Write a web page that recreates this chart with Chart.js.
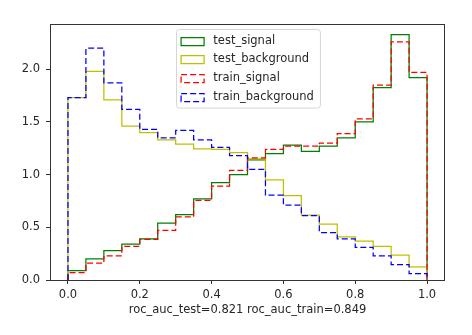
<!DOCTYPE html>
<html>
<head>
<meta charset="utf-8">
<script src="https://cdn.jsdelivr.net/npm/chart.js@4.4.0/dist/chart.umd.min.js"></script>
<style>
  html, body { margin: 0; padding: 0; background: #fff; }
  #wrap { width: 472px; height: 335px; }
</style>
</head>
<body>
<div id="wrap"><canvas id="histChart" width="472" height="335"></canvas></div>
<script>
// histogram bin edges (20 bins)
const binEdges = [0.00, 0.05, 0.10, 0.15, 0.20, 0.25, 0.30, 0.35, 0.40, 0.45, 0.50,
                  0.55, 0.60, 0.65, 0.70, 0.75, 0.80, 0.85, 0.90, 0.95, 1.00];

// density per bin
const testSignal = [0.09, 0.20, 0.28, 0.34, 0.39, 0.54, 0.62, 0.77, 0.925, 1.00,
                    1.14, 1.20, 1.28, 1.22, 1.27, 1.35, 1.50, 1.825, 2.33, 1.92];
const testBackground = [1.73, 1.98, 1.71, 1.46, 1.40, 1.33, 1.29, 1.245, 1.24, 1.21,
                        1.15, 0.95, 0.80, 0.615, 0.53, 0.41, 0.37, 0.32, 0.235, 0.124];
const trainSignal = [0.07, 0.16, 0.23, 0.32, 0.385, 0.47, 0.60, 0.755, 0.89, 1.04,
                     1.16, 1.24, 1.27, 1.27, 1.30, 1.39, 1.53, 1.85, 2.26, 1.97];
const trainBackground = [1.73, 2.20, 1.87, 1.62, 1.43, 1.35, 1.42, 1.33, 1.26, 1.18,
                         1.05, 0.805, 0.71, 0.61, 0.45, 0.39, 0.31, 0.23, 0.146, 0.06];

const xTicks = [0.0, 0.2, 0.4, 0.6, 0.8, 1.0];
const yTicks = [0.0, 0.5, 1.0, 1.5, 2.0];
const xLabel = 'roc_auc_test=0.821 roc_auc_train=0.849';

const FONT = 'DejaVu Sans';
const FONT_SIZE = 11.5;
const TEXT_COLOR = '#262626';
const AXIS_COLOR = '#333333';
const LINE_W = 1.25;

Chart.defaults.font.family = FONT;
Chart.defaults.font.size = FONT_SIZE;
Chart.defaults.color = TEXT_COLOR;

// turn bin heights into step outline points (closed down to 0 at both ends)
function stepPoints(values) {
    const pts = [{ x: binEdges[0], y: 0 }];
    values.forEach((v, i) => pts.push({ x: binEdges[i], y: v }));
    pts.push({ x: binEdges[binEdges.length - 1], y: 0 });
    return pts;
}

function stepDataset(label, values, color, dashed, order) {
    return {
        label: label,
        data: stepPoints(values),
        borderColor: color,
        borderWidth: LINE_W,
        borderDash: dashed ? [6, 3] : [],
        stepped: 'before', // horizontal at the previous value, then vertical
        fill: false,
        pointRadius: 0,
        order: order // later matplotlib series sit on top
    };
}

// frame, legend box and x label
const decorPlugin = {
    id: 'decor',
    afterDraw(chart) {
        const { ctx, chartArea } = chart;
        ctx.save();

        // spines
        ctx.strokeStyle = AXIS_COLOR;
        ctx.lineWidth = 1;
        ctx.strokeRect(Math.round(chartArea.left) + 0.5, Math.round(chartArea.top) + 0.5,
            Math.round(chartArea.right - chartArea.left) - 1, Math.round(chartArea.bottom - chartArea.top));

        // x axis label
        ctx.fillStyle = TEXT_COLOR;
        ctx.font = FONT_SIZE + 'px "' + FONT + '"';
        ctx.textAlign = 'center';
        ctx.textBaseline = 'middle';
        ctx.fillText(xLabel, (chartArea.left + chartArea.right) / 2, 310.5);

        // legend, upper center
        const em = FONT_SIZE;
        const pad = 0.4 * em, handleW = 2 * em, handleH = 0.7 * em, textPad = 0.8 * em;
        const rowH = 18.8;
        const items = chart.data.datasets;
        ctx.textAlign = 'left';
        const maxText = Math.max(...items.map(d => ctx.measureText(d.label).width));
        const boxW = pad * 2 + handleW + textPad + maxText + 2;
        const boxH = pad * 2 + rowH * (items.length - 1) + 13;
        const bx = Math.round((chartArea.left + chartArea.right) / 2 - boxW / 2) + 0.5;
        const by = Math.round(chartArea.top + 5) + 0.5;

        ctx.beginPath();
        ctx.roundRect(bx, by, boxW, boxH, 3);
        ctx.fillStyle = 'rgba(255,255,255,0.8)';
        ctx.fill();
        ctx.strokeStyle = '#d6d6d6';
        ctx.stroke();

        items.forEach((d, i) => {
            const cy = by + pad + 6.5 + i * rowH;
            ctx.beginPath();
            ctx.setLineDash(d.borderDash);
            ctx.strokeStyle = d.borderColor;
            ctx.lineWidth = LINE_W;
            ctx.rect(bx + pad, Math.round(cy - handleH / 2) + 0.5, handleW, handleH);
            ctx.stroke();
            ctx.setLineDash([]);
            ctx.fillStyle = TEXT_COLOR;
            ctx.fillText(d.label, bx + pad + handleW + textPad, cy);
        });

        ctx.restore();
    }
};

const ctx = document.getElementById('histChart').getContext('2d');

const histChart = new Chart(ctx, {
    type: 'line',
    data: {
        datasets: [
            stepDataset('test_signal', testSignal, '#008000', false, 4),
            stepDataset('test_background', testBackground, '#bfbf00', false, 3),
            stepDataset('train_signal', trainSignal, '#ff0000', true, 2),
            stepDataset('train_background', trainBackground, '#0000ff', true, 1)
        ]
    },
    options: {
        responsive: false,
        animation: false,
        layout: { padding: { top: 24, right: 27, left: 0, bottom: 0 } },
        plugins: {
            legend: { display: false },
            tooltip: { enabled: false }
        },
        scales: {
            x: {
                type: 'linear',
                min: -0.05,
                max: 1.05,
                afterBuildTicks: scale => { scale.ticks = xTicks.map(v => ({ value: v })); },
                afterFit: scale => { scale.height = 55; },
                border: { display: false },
                grid: { drawOnChartArea: false, drawTicks: true, tickLength: 4, color: AXIS_COLOR },
                ticks: {
                    padding: 4,
                    maxRotation: 0,
                    callback: v => Number(v).toFixed(1)
                }
            },
            y: {
                min: 0,
                max: 2.43,
                afterBuildTicks: scale => { scale.ticks = yTicks.map(v => ({ value: v })); },
                afterFit: scale => { scale.width = 50; },
                border: { display: false },
                grid: { drawOnChartArea: false, drawTicks: true, tickLength: 4, color: AXIS_COLOR },
                ticks: {
                    padding: 6,
                    callback: v => Number(v).toFixed(1)
                }
            }
        }
    },
    plugins: [decorPlugin]
});
</script>
</body>
</html>
